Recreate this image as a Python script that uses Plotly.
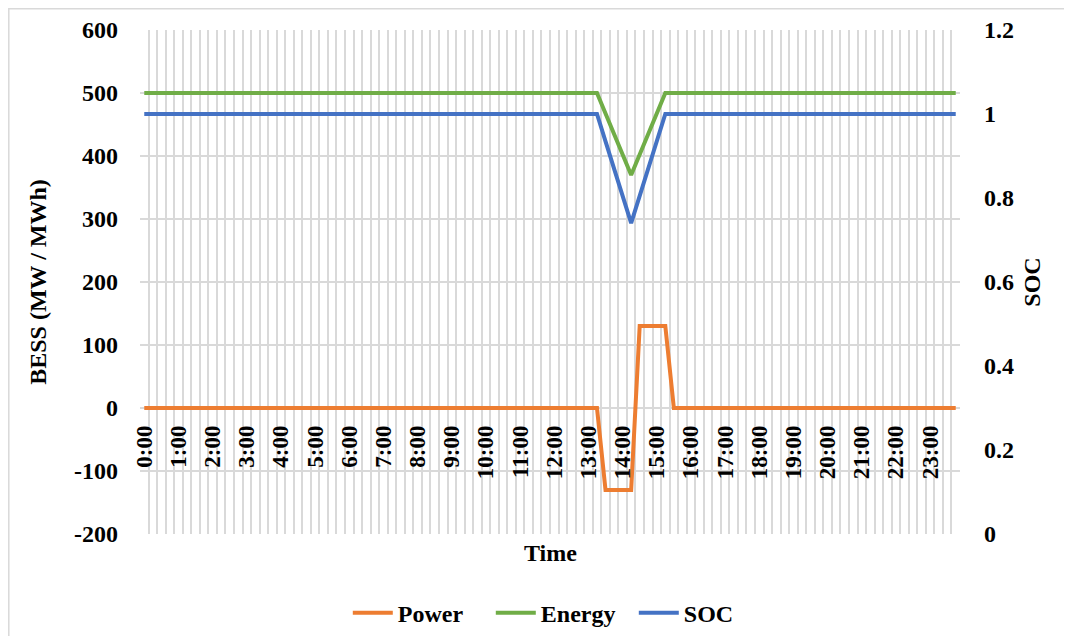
import plotly.graph_objects as go

# 15-minute time steps over one day
times = [f"{h}:{m:02d}" for h in range(24) for m in (0, 15, 30, 45)]
hour_labels = [t if t.endswith(":00") else "" for t in times]

power = [
    0, 0, 0, 0, 0, 0, 0, 0, 0, 0, 0, 0, 0, 0, 0, 0,
    0, 0, 0, 0, 0, 0, 0, 0, 0, 0, 0, 0, 0, 0, 0, 0,
    0, 0, 0, 0, 0, 0, 0, 0, 0, 0, 0, 0, 0, 0, 0, 0,
    0, 0, 0, 0, 0, 0, -130, -130, -130, -130, 130, 130, 130, 130, 0, 0,
    0, 0, 0, 0, 0, 0, 0, 0, 0, 0, 0, 0, 0, 0, 0, 0,
    0, 0, 0, 0, 0, 0, 0, 0, 0, 0, 0, 0, 0, 0, 0, 0,
]
energy = [
    500, 500, 500, 500, 500, 500, 500, 500, 500, 500, 500, 500, 500, 500, 500, 500,
    500, 500, 500, 500, 500, 500, 500, 500, 500, 500, 500, 500, 500, 500, 500, 500,
    500, 500, 500, 500, 500, 500, 500, 500, 500, 500, 500, 500, 500, 500, 500, 500,
    500, 500, 500, 500, 500, 500, 467.5, 435, 402.5, 370, 402.5, 435, 467.5, 500, 500, 500,
    500, 500, 500, 500, 500, 500, 500, 500, 500, 500, 500, 500, 500, 500, 500, 500,
    500, 500, 500, 500, 500, 500, 500, 500, 500, 500, 500, 500, 500, 500, 500, 500,
]
soc = [
    1, 1, 1, 1, 1, 1, 1, 1, 1, 1, 1, 1, 1, 1, 1, 1,
    1, 1, 1, 1, 1, 1, 1, 1, 1, 1, 1, 1, 1, 1, 1, 1,
    1, 1, 1, 1, 1, 1, 1, 1, 1, 1, 1, 1, 1, 1, 1, 1,
    1, 1, 1, 1, 1, 1, 0.935, 0.87, 0.805, 0.74, 0.805, 0.87, 0.935, 1, 1, 1,
    1, 1, 1, 1, 1, 1, 1, 1, 1, 1, 1, 1, 1, 1, 1, 1,
    1, 1, 1, 1, 1, 1, 1, 1, 1, 1, 1, 1, 1, 1, 1, 1,
]

left_ticks = [-200, -100, 0, 100, 200, 300, 400, 500, 600]
left_text = ["-200", "-100", "0", "100", "200", "300", "400", "500", "600"]
right_ticks = [0, 0.2, 0.4, 0.6, 0.8, 1.0, 1.2]
right_text = ["0", "0.2", "0.4", "0.6", "0.8", "1", "1.2"]

FONT = "Liberation Serif"
GRID = "#d9d9d9"

fig = go.Figure()
fig.add_trace(go.Scatter(x=times, y=power, name="Power", mode="lines",
                         line=dict(color="#ED7D31", width=4)))
fig.add_trace(go.Scatter(x=times, y=energy, name="Energy", mode="lines",
                         line=dict(color="#70AD47", width=4)))
fig.add_trace(go.Scatter(x=times, y=soc, name="SOC", mode="lines", yaxis="y2",
                         line=dict(color="#4472C4", width=4)))

# page body adds an 8px margin, so the figure is sized to fit inside it
fig.update_layout(
    width=1056, height=628,
    margin=dict(l=132, r=104, t=22, b=102, autoexpand=False),
    paper_bgcolor="white", plot_bgcolor="white",
    font=dict(family=FONT, size=24, color="black", weight="bold"),
    xaxis=dict(type="category", range=[-0.5, 95.5], automargin=False,
               tickmode="array", tickvals=times, ticktext=hour_labels,
               tickson="boundaries", tickangle=-90, ticks="",
               showgrid=True, gridcolor=GRID, gridwidth=1.5,
               showline=False, zeroline=False,
               anchor="free", position=0.25, ticklabelstandoff=12,
               tickfont=dict(family=FONT, size=23, weight="bold")),
    yaxis=dict(range=[-200, 600], tickmode="array", tickvals=left_ticks, ticktext=left_text,
               automargin=False,
               showgrid=True, gridcolor=GRID, gridwidth=1.5, zeroline=False,
               showline=False, ticks="", ticklabelstandoff=21,
               title=dict(text="BESS (MW / MWh)", standoff=20,
                          font=dict(family=FONT, size=24, weight="bold")),
               tickfont=dict(family=FONT, size=24, weight="bold")),
    yaxis2=dict(range=[0, 1.2], overlaying="y", side="right", automargin=False,
                tickmode="array", tickvals=right_ticks, ticktext=right_text,
                showgrid=False, zeroline=False, showline=False, ticks="",
                ticklabelstandoff=23,
                title=dict(text="SOC", standoff=10,
                           font=dict(family=FONT, size=24, weight="bold")),
                tickfont=dict(family=FONT, size=24, weight="bold")),
    legend=dict(orientation="h", x=0.515, xanchor="center", y=-0.157, yanchor="middle",
                font=dict(family=FONT, size=24, weight="bold"),
                itemwidth=40, entrywidth=88),
    showlegend=True,
)

fig.add_annotation(text="Time", x=0.5, y=-0.0377, xref="paper", yref="paper",
                   showarrow=False, yanchor="middle",
                   font=dict(family=FONT, size=24, weight="bold"))

fig.add_shape(type="rect", xref="paper", yref="paper",
              x0=-0.16, x1=1.4, y0=-0.4, y1=1.042,
              line=dict(color=GRID, width=1.5), layer="below")

fig.write_html("out.html")
